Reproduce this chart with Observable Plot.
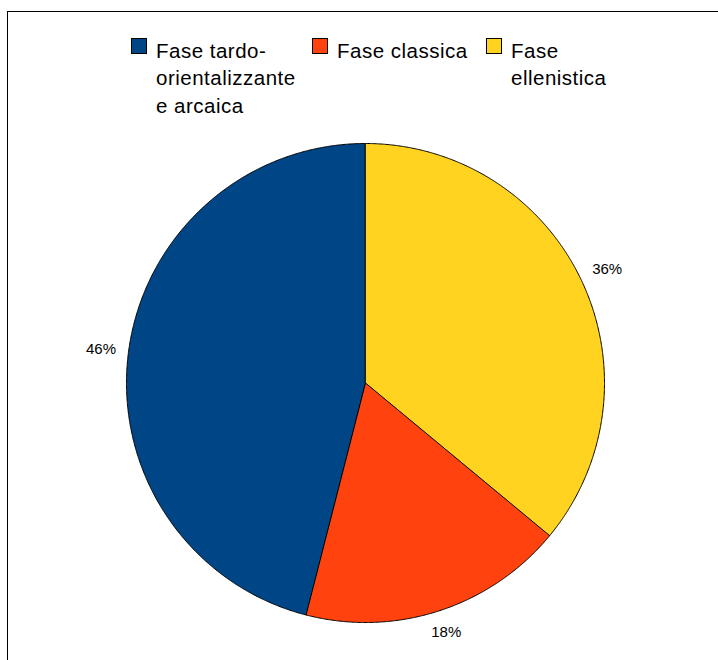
<!DOCTYPE html>
<html>
<head>
<meta charset="utf-8">
<script src="https://cdn.jsdelivr.net/npm/d3@7"></script>
<script src="https://cdn.jsdelivr.net/npm/@observablehq/plot@0.6"></script>
<style>
  html, body { margin: 0; padding: 0; background: #fff; }
  #wrap { position: relative; width: 718px; height: 660px; overflow: hidden; font-family: "Liberation Sans", Arial, sans-serif; }
  #frame { position: absolute; left: 7px; top: 11px; right: -5px; bottom: -5px; border-top: 1.5px solid #000; border-left: 1.5px solid #000; }
  #chart { position: absolute; left: 0; top: 0; }
  .leg { position: absolute; top: 37px; font-size: 20.5px; line-height: 27.3px; letter-spacing: 0.5px; color: #000; }
  .sw { position: absolute; top: 1px; width: 14px; height: 14px; border: 1px solid #000; }
  .lt { position: absolute; top: 0; white-space: nowrap; }
</style>
</head>
<body>
<div id="wrap">
  <div id="frame"></div>
  <div id="chart"></div>
  <div id="legend"></div>
</div>
<script>
const categories = ["Fase tardo-orientalizzante e arcaica", "Fase classica", "Fase ellenistica"];
const legendLines = [["Fase tardo-", "orientalizzante", "e arcaica"], ["Fase classica"], ["Fase", "ellenistica"]];
const values = [46, 18, 36];
const colors = ["#004586", "#ff420e", "#ffd320"];

const R = 239; // pie radius in px (for label box offset)
const labelHalfW = 15, labelHalfH = 6;

// slices: counterclockwise from 12 o'clock
const total = d3.sum(values);
let acc = 0;
const slices = values.map((v, i) => {
  const a0 = acc / total * 2 * Math.PI;
  acc += v;
  const a1 = acc / total * 2 * Math.PI;
  const pts = [{x: 0, y: 0}];
  const n = Math.max(2, Math.ceil((a1 - a0) / 0.005));
  for (let k = 0; k <= n; k++) {
    const a = a0 + (a1 - a0) * k / n;
    pts.push({x: -Math.sin(a), y: Math.cos(a)});
  }
  const am = (a0 + a1) / 2;
  const ux = -Math.sin(am), uy = Math.cos(am);
  const ext = (Math.abs(ux) * labelHalfW + Math.abs(uy) * labelHalfH) / R;
  const k = 1.05 + ext;
  return {cat: categories[i], value: v, color: colors[i], pts, lx: ux * k, ly: uy * k};
});

const marks = slices.map(s => Plot.line(s.pts, {x: "x", y: "y", fill: s.color, stroke: "#000", strokeWidth: 1, curve: "linear-closed", strokeLinejoin: "round"}));
marks.push(Plot.text(slices, {x: "lx", y: "ly", text: d => d.value + "%", fontSize: 15, fill: "#000", textAnchor: "middle"}));

const chart = Plot.plot({
  width: 718, height: 660, margin: 0,
  x: {domain: [-1, 1], range: [126, 604], axis: null},
  y: {domain: [-1, 1], range: [622, 143], axis: null},
  style: {fontFamily: "Liberation Sans, Arial, sans-serif", background: "transparent"},
  marks
});
document.getElementById("chart").appendChild(chart);

// legend
const legX = [131, 312, 486];
const legend = document.getElementById("legend");
categories.forEach((c, i) => {
  const g = document.createElement("div");
  g.className = "leg";
  g.style.left = legX[i] + "px";
  const sw = document.createElement("div");
  sw.className = "sw";
  sw.style.left = "0px";
  sw.style.background = colors[i];
  g.appendChild(sw);
  const t = document.createElement("div");
  t.className = "lt";
  t.style.left = "25px";
  t.innerHTML = legendLines[i].join("<br>");
  g.appendChild(t);
  legend.appendChild(g);
});
</script>
</body>
</html>
